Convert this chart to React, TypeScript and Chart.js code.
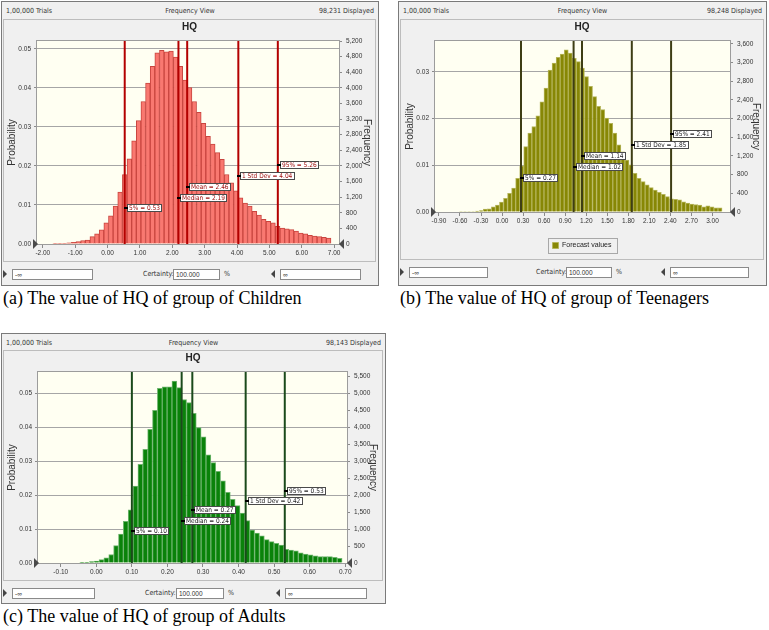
import React, { useEffect, useRef } from "react";
import { Chart, registerables } from "chart.js";

Chart.register(...registerables);

const SANS = "'Liberation Sans', Arial, sans-serif";
const NARROW = "'Liberation Sans Narrow', 'Arial Narrow', 'DejaVu Sans Condensed', 'Liberation Sans', sans-serif";
const SERIF = "'Liberation Serif', 'Times New Roman', serif";

const statNames = ["5%", "Median", "Mean", "1 Std Dev", "95%"];

// ---------- (a) Children ----------
const childrenBinStart = -1.69;
const childrenBinWidth = 0.1432;
const childrenProbability = [
  0.0001, 0.0002, 0.0002, 0.0003, 0.0004, 0.0006, 0.0009, 0.001, 0.0019, 0.0026,
  0.0036, 0.0054, 0.0072, 0.0097, 0.0133, 0.0178, 0.0218, 0.0264, 0.0316, 0.0365,
  0.0412, 0.0455, 0.049, 0.0496, 0.0492, 0.0494, 0.0479, 0.0455, 0.042, 0.0401,
  0.0365, 0.0337, 0.0309, 0.0276, 0.0256, 0.0234, 0.0217, 0.0178, 0.0157, 0.0136,
  0.0118, 0.0105, 0.0097, 0.0084, 0.0074, 0.0063, 0.0058, 0.0054, 0.0045, 0.0041,
  0.0039, 0.0037, 0.0033, 0.0028, 0.0026, 0.0022, 0.002, 0.0019, 0.0017, 0.0015,
];
const childrenStats = [0.53, 2.19, 2.46, 4.04, 5.26];
const childrenLabelLevels = [0.0091, 0.0119, 0.0147, 0.0174, 0.0202];
const childrenXTicks = [-2, -1, 0, 1, 2, 3, 4, 5, 6, 7];
const childrenProbTicks = [0, 0.01, 0.02, 0.03, 0.04, 0.05];
const childrenFreqTicks = [0, 400, 800, 1200, 1600, 2000, 2400, 2800, 3200, 3600, 4000, 4400, 4800, 5200];

// ---------- (b) Teenagers ----------
const teenBinStart = -0.614;
const teenBinWidth = 0.0577;
const teenProbability = [
  0.0001, 0.0001, 0.0001, 0.0001, 0.0002, 0.0003, 0.0006, 0.0007, 0.0011, 0.0015,
  0.0021, 0.0029, 0.004, 0.0051, 0.0072, 0.0099, 0.014, 0.0169, 0.0183, 0.0206,
  0.0236, 0.0265, 0.0304, 0.0319, 0.0331, 0.0338, 0.0347, 0.034, 0.0329, 0.0322,
  0.0308, 0.029, 0.0269, 0.0247, 0.0226, 0.0219, 0.0201, 0.019, 0.0169, 0.0144,
  0.0129, 0.0111, 0.0101, 0.0083, 0.0072, 0.0065, 0.0058, 0.0052, 0.0047, 0.0042,
  0.0038, 0.0033, 0.0028, 0.0027, 0.0026, 0.0022, 0.0019, 0.0017, 0.0016, 0.0015,
  0.0011, 0.0013, 0.0011, 0.0009, 0.0009,
];
const teenStats = [0.27, 1.02, 1.14, 1.85, 2.41];
const teenLabelLevels = [0.0073, 0.0097, 0.012, 0.0143, 0.0166];
const teenXTicks = [-0.9, -0.6, -0.3, 0, 0.3, 0.6, 0.9, 1.2, 1.5, 1.8, 2.1, 2.4, 2.7, 3.0];
const teenProbTicks = [0, 0.01, 0.02, 0.03];
const teenFreqTicks = [0, 400, 800, 1200, 1600, 2000, 2400, 2800, 3200, 3600];

// ---------- (c) Adults ----------
const adultBinStart = -0.047;
const adultBinWidth = 0.01367;
const adultProbability = [
  0.0001, 0.0002, 0.0004, 0.0006, 0.001, 0.0015, 0.0025, 0.0051, 0.0085, 0.0123,
  0.0157, 0.0227, 0.0291, 0.0335, 0.0394, 0.045, 0.0515, 0.0519, 0.0519, 0.0536,
  0.0517, 0.0482, 0.0473, 0.0441, 0.0399, 0.0372, 0.0319, 0.0296, 0.027, 0.0242,
  0.0208, 0.0188, 0.0169, 0.0147, 0.0125, 0.0097, 0.0088, 0.008, 0.0069, 0.0063,
  0.0058, 0.0053, 0.004, 0.0038, 0.0036, 0.003, 0.0026, 0.0024, 0.0021, 0.0019,
  0.0019, 0.0019, 0.0017, 0.0014,
];
const adultStats = [0.1, 0.24, 0.27, 0.42, 0.53];
const adultLabelLevels = [0.0095, 0.0124, 0.0156, 0.0184, 0.0213];
const adultXTicks = [-0.1, 0, 0.1, 0.2, 0.3, 0.4, 0.5, 0.6, 0.7];
const adultProbTicks = [0, 0.01, 0.02, 0.03, 0.04, 0.05];
const adultFreqTicks = [0, 500, 1000, 1500, 2000, 2500, 3000, 3500, 4000, 4500, 5000, 5500];

type Rect = { x: number; y: number; w: number; h: number };
type Spec = {
  key: string;
  frame: Rect;
  inner: Rect;
  canvas: Rect;
  headerY: number;
  certTop: number;
  trials: string;
  displayed: string;
  caption: string;
  capX: number;
  capY: number;
  binStart: number;
  binWidth: number;
  prob: number[];
  stats: number[];
  labelLevels: number[];
  xTicks: number[];
  probTicks: number[];
  freqTicks: number[];
  xMin: number;
  xMax: number;
  yMax: number;
  barFill: string;
  barEdge: string;
  lineColor: string;
  labelColor: string;
  leftW: number;
  rightW: number;
  xH: number;
  titleLPad: number;
  titleRPad: number;
  legend: boolean;
};

const specs: Spec[] = [
  {
    key: "a",
    frame: { x: 1, y: 1, w: 378, h: 285 },
    inner: { x: 3, y: 19, w: 373, h: 243 },
    canvas: { x: 4, y: 20, w: 371, h: 241 },
    headerY: 11,
    certTop: 269,
    trials: "1,00,000 Trials",
    displayed: "98,231 Displayed",
    caption: "(a) The value of HQ of group of Children",
    capX: 3,
    capY: 288,
    binStart: childrenBinStart,
    binWidth: childrenBinWidth,
    prob: childrenProbability,
    stats: childrenStats,
    labelLevels: childrenLabelLevels,
    xTicks: childrenXTicks,
    probTicks: childrenProbTicks,
    freqTicks: childrenFreqTicks,
    xMin: -2.18,
    xMax: 7.15,
    yMax: 0.052,
    barFill: "#F97870",
    barEdge: "#C8453F",
    lineColor: "#B30000",
    labelColor: "#A01010",
    leftW: 33,
    rightW: 36,
    xH: 17,
    titleLPad: 2,
    titleRPad: 2,
    legend: false,
  },
  {
    key: "b",
    frame: { x: 398, y: 1, w: 369, h: 285 },
    inner: { x: 400, y: 19, w: 364, h: 241 },
    canvas: { x: 401, y: 20, w: 362, h: 239 },
    headerY: 11,
    certTop: 267,
    trials: "1,00,000 Trials",
    displayed: "98,248 Displayed",
    caption: "(b) The value of HQ of group of Teenagers",
    capX: 400,
    capY: 288,
    binStart: teenBinStart,
    binWidth: teenBinWidth,
    prob: teenProbability,
    stats: teenStats,
    labelLevels: teenLabelLevels,
    xTicks: teenXTicks,
    probTicks: teenProbTicks,
    freqTicks: teenFreqTicks,
    xMin: -0.956,
    xMax: 3.25,
    yMax: 0.0366,
    barFill: "#878705",
    barEdge: "#B4B45A",
    lineColor: "#3E3E14",
    labelColor: "#222222",
    leftW: 34,
    rightW: 33,
    xH: 24,
    titleLPad: 3,
    titleRPad: 1,
    legend: true,
  },
  {
    key: "c",
    frame: { x: 1, y: 333, w: 385, h: 271 },
    inner: { x: 3, y: 350, w: 380, h: 231 },
    canvas: { x: 4, y: 351, w: 378, h: 229 },
    headerY: 343,
    certTop: 588,
    trials: "1,00,000 Trials",
    displayed: "98,143 Displayed",
    caption: "(c) The value of HQ of group of Adults",
    capX: 3,
    capY: 606,
    binStart: adultBinStart,
    binWidth: adultBinWidth,
    prob: adultProbability,
    stats: adultStats,
    labelLevels: adultLabelLevels,
    xTicks: adultXTicks,
    probTicks: adultProbTicks,
    freqTicks: adultFreqTicks,
    xMin: -0.164,
    xMax: 0.705,
    yMax: 0.0563,
    barFill: "#0A820A",
    barEdge: "#6DB46D",
    lineColor: "#1B4A1B",
    labelColor: "#222222",
    leftW: 34,
    rightW: 35,
    xH: 17,
    titleLPad: 2,
    titleRPad: 3,
    legend: false,
  },
];

function decorPlugin(s: Spec) {
  return {
    id: "decor_" + s.key,
    beforeDraw(chart: any) {
      const { ctx, chartArea: a } = chart;
      ctx.save();
      ctx.fillStyle = "#FFFFF2";
      ctx.fillRect(a.left, a.top, a.right - a.left, a.bottom - a.top);
      ctx.restore();
    },
    afterDatasetsDraw(chart: any) {
      const { ctx } = chart;
      const xs = chart.scales.x;
      const ys = chart.scales.y;
      ctx.save();
      ctx.font = `6.5px ${NARROW}`;
      ctx.textBaseline = "middle";
      s.stats.forEach((v, i) => {
        const px = Math.round(xs.getPixelForValue(v));
        const py = Math.round(ys.getPixelForValue(s.labelLevels[i]));
        const text = `${statNames[i]} = ${v.toFixed(2)}`;
        const w = Math.ceil(ctx.measureText(text).width) + 4;
        const h = 8;
        const bx = px + 2;
        ctx.fillStyle = "#ffffff";
        ctx.fillRect(bx, py - h / 2, w, h);
        ctx.strokeStyle = "#4a4a4a";
        ctx.lineWidth = 1;
        ctx.strokeRect(bx + 0.5, py - h / 2 + 0.5, w - 1, h - 1);
        ctx.fillStyle = s.labelColor;
        ctx.fillText(text, bx + 2, py + 0.5);
        ctx.fillStyle = "#000";
        ctx.fillRect(px - 1, py - 1, 4, 2);
      });
      ctx.restore();
    },
    afterDraw(chart: any) {
      const { ctx, chartArea: a } = chart;
      ctx.save();
      ctx.strokeStyle = "#9c9c9c";
      ctx.lineWidth = 1;
      ctx.strokeRect(a.left - 0.5, a.top - 0.5, a.right - a.left + 1, a.bottom - a.top + 1);
      ctx.fillStyle = "#4a4a4a";
      ctx.beginPath();
      ctx.moveTo(a.left - 4, a.bottom - 5);
      ctx.lineTo(a.left + 1, a.bottom);
      ctx.lineTo(a.left - 4, a.bottom + 5);
      ctx.closePath();
      ctx.fill();
      ctx.beginPath();
      ctx.moveTo(a.right + 5, a.bottom - 5);
      ctx.lineTo(a.right, a.bottom);
      ctx.lineTo(a.right + 5, a.bottom + 5);
      ctx.closePath();
      ctx.fill();
      if (s.legend && chart.legend && chart.legend.legendHitBoxes && chart.legend.legendHitBoxes.length) {
        const hb = chart.legend.legendHitBoxes[0];
        ctx.strokeStyle = "#a8a8a8";
        ctx.strokeRect(Math.round(hb.left - 5) + 0.5, Math.round(hb.top - 4) + 0.5, Math.round(hb.width + 10), Math.round(hb.height + 8));
      }
      ctx.restore();
    },
  };
}

function makeConfig(s: Spec): any {
  const barPoints = s.prob.map((p, i) => ({ x: s.binStart + (i + 0.5) * s.binWidth, y: p }));
  const datasets: any[] = [
    {
      type: "bar",
      label: "Forecast values",
      data: barPoints,
      backgroundColor: s.barFill,
      borderColor: s.barEdge,
      borderWidth: 1,
      borderSkipped: "bottom",
      barPercentage: 1,
      categoryPercentage: 1,
      order: 2,
      xAxisID: "x",
      yAxisID: "y",
    },
  ];
  s.stats.forEach((v) => {
    datasets.push({
      type: "line",
      label: "",
      data: [
        { x: v, y: 0 },
        { x: v, y: s.yMax },
      ],
      borderColor: s.lineColor,
      borderWidth: 2,
      pointRadius: 0,
      fill: false,
      order: 1,
      xAxisID: "x",
      yAxisID: "y",
    });
  });
  const tickFont = { family: SANS, size: 6.5 };
  const titleFont = { family: SANS, size: 10 };
  return {
    type: "bar",
    data: { datasets },
    options: {
      animation: false,
      responsive: false,
      events: [],
      layout: { padding: 0 },
      scales: {
        x: {
          type: "linear",
          min: s.xMin,
          max: s.xMax,
          offset: false,
          afterBuildTicks: (sc: any) => {
            sc.ticks = s.xTicks.map((v) => ({ value: v }));
          },
          afterFit: (sc: any) => {
            sc.height = s.xH;
          },
          ticks: {
            font: tickFont,
            color: "#333",
            padding: 1,
            maxRotation: 0,
            minRotation: 0,
            autoSkip: false,
            callback: (v: any) => Number(v).toFixed(2),
          },
          grid: { display: true, drawOnChartArea: false, drawTicks: true, tickLength: 4, color: "#8a8a8a", offset: false },
          border: { display: false },
        },
        y: {
          type: "linear",
          position: "left",
          min: 0,
          max: s.yMax,
          afterBuildTicks: (sc: any) => {
            sc.ticks = s.probTicks.map((v) => ({ value: v }));
          },
          afterFit: (sc: any) => {
            sc.width = s.leftW;
          },
          ticks: { font: tickFont, color: "#333", padding: 3, callback: (v: any) => Number(v).toFixed(2) },
          grid: { color: "#a6a6a6", tickLength: 3, tickColor: "#8a8a8a" },
          border: { display: false },
          title: { display: true, text: "Probability", font: titleFont, color: "#333", padding: { top: s.titleLPad, bottom: 0 } },
        },
        y2: {
          type: "linear",
          position: "right",
          min: 0,
          max: s.yMax * 100000,
          afterBuildTicks: (sc: any) => {
            sc.ticks = s.freqTicks.map((v) => ({ value: v }));
          },
          afterFit: (sc: any) => {
            sc.width = s.rightW;
          },
          ticks: { font: tickFont, color: "#333", padding: 4, callback: (v: any) => Number(v).toLocaleString("en-US") },
          grid: { drawOnChartArea: false, tickLength: 3, color: "#8a8a8a" },
          border: { display: false },
          title: { display: true, text: "Frequency", font: titleFont, color: "#333", padding: { top: s.titleRPad, bottom: 0 } },
        },
      },
      plugins: {
        legend: {
          display: s.legend,
          position: "bottom",
          labels: {
            boxWidth: 6,
            boxHeight: 6,
            padding: 6,
            font: { family: SANS, size: 7 },
            color: "#222",
            filter: (item: any) => item.datasetIndex === 0,
          },
        },
        title: {
          display: true,
          text: "HQ",
          font: { family: SANS, size: 10, weight: "bold" },
          color: "#222",
          padding: { top: 1, bottom: 8 },
        },
        tooltip: { enabled: false },
      },
    },
    plugins: [decorPlugin(s)],
  };
}

function Panel({ s }: { s: Spec }) {
  const ref = useRef<HTMLCanvasElement | null>(null);
  useEffect(() => {
    const chart = new Chart(ref.current as HTMLCanvasElement, makeConfig(s));
    return () => chart.destroy();
  }, [s]);
  const f = s.frame;
  const small: React.CSSProperties = {
    position: "absolute",
    fontFamily: NARROW,
    fontSize: 7,
    color: "#333",
    lineHeight: "9px",
    whiteSpace: "nowrap",
  };
  const box: React.CSSProperties = {
    position: "absolute",
    boxSizing: "border-box",
    background: "#fff",
    border: "1px solid #8a8a8a",
    height: 11,
    fontFamily: SANS,
    fontSize: 6.5,
    lineHeight: "9px",
    paddingLeft: 2,
    color: "#333",
    whiteSpace: "nowrap",
  };
  const ct = s.certTop;
  return (
    <>
      <div
        style={{
          position: "absolute",
          left: f.x,
          top: f.y,
          width: f.w,
          height: f.h,
          boxSizing: "border-box",
          border: "1px solid #7a7a7a",
          background: "#F0F0F0",
        }}
      />
      <div style={{ ...small, left: f.x + 5, top: s.headerY - 4.5 }}>{s.trials}</div>
      <div style={{ ...small, left: f.x, width: f.w, textAlign: "center", top: s.headerY - 4.5 }}>Frequency View</div>
      <div style={{ ...small, left: f.x, width: f.w - 5, textAlign: "right", top: s.headerY - 4.5 }}>{s.displayed}</div>
      <div
        style={{
          position: "absolute",
          left: s.inner.x,
          top: s.inner.y,
          width: s.inner.w,
          height: s.inner.h,
          boxSizing: "border-box",
          border: "1px solid #bdbdbd",
        }}
      />
      <canvas
        ref={ref}
        width={s.canvas.w}
        height={s.canvas.h}
        style={{ position: "absolute", left: s.canvas.x, top: s.canvas.y, width: s.canvas.w, height: s.canvas.h }}
      />
      <div
        style={{
          position: "absolute",
          left: f.x + 2,
          top: ct + 1,
          width: 0,
          height: 0,
          borderTop: "4.5px solid transparent",
          borderBottom: "4.5px solid transparent",
          borderLeft: "4px solid #444",
        }}
      />
      <div style={{ ...box, left: f.x + 11, top: ct, width: Math.round(0.215 * f.w) }}>-∞</div>
      <div style={{ ...small, left: f.x + Math.round(0.375 * f.w), top: ct + 1 }}>Certainty:</div>
      <div style={{ ...box, left: f.x + Math.round(0.455 * f.w), top: ct, width: Math.round(0.125 * f.w) }}>100.000</div>
      <div style={{ ...small, left: f.x + Math.round(0.59 * f.w), top: ct + 1 }}>%</div>
      <div
        style={{
          position: "absolute",
          left: f.x + Math.round(0.713 * f.w),
          top: ct + 1,
          width: 0,
          height: 0,
          borderTop: "4.5px solid transparent",
          borderBottom: "4.5px solid transparent",
          borderRight: "4px solid #444",
        }}
      />
      <div style={{ ...box, left: f.x + Math.round(0.738 * f.w), top: ct, width: Math.round(0.213 * f.w) }}>∞</div>
      <div
        style={{
          position: "absolute",
          left: s.capX,
          top: s.capY,
          fontFamily: SERIF,
          fontSize: 18,
          lineHeight: "20px",
          color: "#000",
          whiteSpace: "nowrap",
        }}
      >
        {s.caption}
      </div>
    </>
  );
}

export default function App() {
  useEffect(() => {
    document.body.style.margin = "0";
  }, []);
  return (
    <div style={{ position: "absolute", left: 0, top: 0, width: 769, height: 630, background: "#fff", overflow: "hidden" }}>
      {specs.map((s) => (
        <Panel key={s.key} s={s} />
      ))}
    </div>
  );
}
